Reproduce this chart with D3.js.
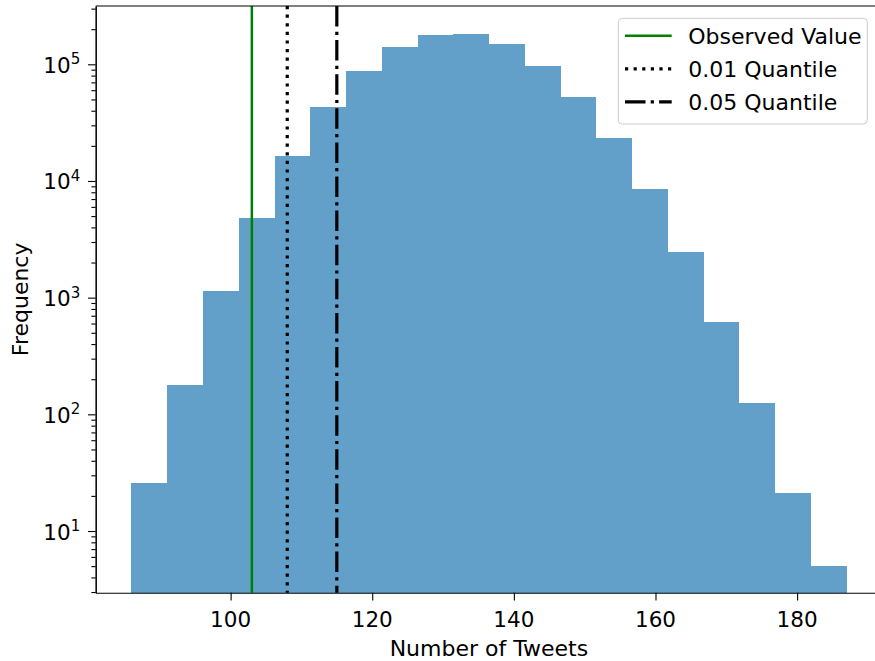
<!DOCTYPE html>
<html>
<head>
<meta charset="utf-8">
<script src="https://cdn.jsdelivr.net/npm/d3@7"></script>
<style>
  body { margin: 0; background: #fff; }
  text { font-family: "DejaVu Sans", sans-serif; fill: #000; }
</style>
</head>
<body>
<div class="chart"></div>
<script>
// histogram bins (left edges + last right edge) and counts
var binEdges = [86, 91.05, 96.1, 101.15, 106.2, 111.25, 116.3, 121.35, 126.4, 131.45, 136.5,
  141.55, 146.6, 151.65, 156.7, 161.75, 166.8, 171.85, 176.9, 181.95, 187];
var binCounts = [26, 180, 1140, 4790, 16400, 43000, 87700, 141600, 179600, 182700, 149000,
  96700, 52500, 23300, 8500, 2450, 620, 125, 21, 5];

var lineNames = ["Observed Value", "0.01 Quantile", "0.05 Quantile"];
var lineValues = [103, 108, 115];

var xTicks = [100, 120, 140, 160, 180];
var yExponents = [1, 2, 3, 4, 5];

var svgWidth = 875;
var svgHeight = 661;

var margin = { top: 6, right: 0, bottom: 68.3, left: 95.7 };
var height = svgHeight - margin.top - margin.bottom;
var width = 786.4; // runs past the right edge of the picture

var svg = d3.select(".chart")
  .append("svg")
  .attr("width", svgWidth)
  .attr("height", svgHeight);

var chartGroup = svg.append("g")
  .attr("transform", `translate(${margin.left}, ${margin.top})`);

var xScale = d3.scaleLinear()
  .domain([80.95, 192])
  .range([0, width]);

var yScale = d3.scaleLog()
  .domain([2.96, 316000])
  .range([height, 0]);

var bins = binCounts.map(function(c, i) {
  return { x0: binEdges[i], x1: binEdges[i + 1], count: c };
});

// bars (C0 at alpha 0.7 on white)
chartGroup.selectAll("rect.bar")
  .data(bins)
  .enter()
  .append("rect")
  .attr("class", "bar")
  .attr("x", d => xScale(d.x0))
  .attr("width", d => xScale(d.x1) - xScale(d.x0))
  .attr("y", d => yScale(d.count))
  .attr("height", d => height - yScale(d.count))
  .attr("fill", "#62a0ca")
  .attr("shape-rendering", "crispEdges");

// vertical reference lines
var lineStyles = [
  { color: "#008000", width: 2.5, dash: null },
  { color: "#000", width: 3.2, dash: "3.2,5.4" },
  { color: "#000", width: 3.2, dash: "20.5,5.2,3.2,5.2" }
];

chartGroup.selectAll("line.ref")
  .data(lineValues)
  .enter()
  .append("line")
  .attr("class", "ref")
  .attr("x1", d => xScale(d))
  .attr("x2", d => xScale(d))
  .attr("y1", 0)
  .attr("y2", height)
  .attr("stroke", (d, i) => lineStyles[i].color)
  .attr("stroke-width", (d, i) => lineStyles[i].width)
  .attr("stroke-dasharray", (d, i) => lineStyles[i].dash);

// x axis
var bottomAxis = d3.axisBottom(xScale)
  .tickValues(xTicks)
  .tickSize(7.7)
  .tickSizeOuter(0)
  .tickFormat("");

var xAxisG = chartGroup.append("g")
  .attr("transform", `translate(0, ${height})`)
  .call(bottomAxis);

xAxisG.selectAll(".tickLabel")
  .data(xTicks)
  .enter()
  .append("text")
  .attr("x", d => xScale(d))
  .attr("y", 34.3)
  .attr("text-anchor", "middle")
  .attr("font-size", "21.5px")
  .text(d => d);

// y axis: minor ticks then major ticks
var minorTicks = [];
for (var e = 0; e <= 5; e++) {
  for (var m = 2; m <= 9; m++) {
    var v = m * Math.pow(10, e);
    if (v >= 2.96 && v <= 316000) minorTicks.push(v);
  }
}

chartGroup.append("g")
  .call(d3.axisLeft(yScale).tickValues(minorTicks).tickSize(4.3).tickSizeOuter(0).tickFormat(""));

var majorValues = yExponents.map(p => Math.pow(10, p));
var yAxisG = chartGroup.append("g")
  .call(d3.axisLeft(yScale).tickValues(majorValues).tickSize(7.7).tickSizeOuter(0).tickFormat(""));

var yLabels = yAxisG.selectAll(".yLabel")
  .data(yExponents)
  .enter()
  .append("text")
  .attr("x", -15.5)
  .attr("y", d => yScale(Math.pow(10, d)) + 8.5)
  .attr("text-anchor", "end")
  .attr("font-size", "21.5px");
yLabels.append("tspan").text("10");
yLabels.append("tspan")
  .attr("font-size", "15px")
  .attr("dy", -8.5)
  .text(d => d);

chartGroup.selectAll(".domain, .tick line")
  .attr("stroke", "#000")
  .attr("stroke-width", 1.1);

// top spine
chartGroup.append("line")
  .attr("x1", 0).attr("x2", width)
  .attr("y1", 0).attr("y2", 0)
  .attr("stroke", "#000")
  .attr("stroke-width", 1.1);

// axis titles
chartGroup.append("text")
  .attr("transform", "rotate(-90)")
  .attr("x", 0 - height / 2)
  .attr("y", 28 - margin.left)
  .attr("text-anchor", "middle")
  .attr("font-size", "22px")
  .text("Frequency");

chartGroup.append("text")
  .attr("x", width / 2)
  .attr("y", height + 63)
  .attr("text-anchor", "middle")
  .attr("font-size", "22px")
  .text("Number of Tweets");

// legend
var legend = svg.append("g").attr("transform", "translate(618.3, 18.3)");
legend.append("rect")
  .attr("width", 249)
  .attr("height", 105.7)
  .attr("rx", 4)
  .attr("fill", "#fff")
  .attr("fill-opacity", 0.8)
  .attr("stroke", "#cccccc")
  .attr("stroke-width", 1);

var rows = legend.selectAll("g.row")
  .data(lineNames)
  .enter()
  .append("g")
  .attr("class", "row")
  .attr("transform", (d, i) => `translate(0, ${17.5 + i * 33})`);

rows.append("line")
  .attr("x1", 6.7).attr("x2", 53.4)
  .attr("stroke", (d, i) => lineStyles[i].color)
  .attr("stroke-width", (d, i) => lineStyles[i].width)
  .attr("stroke-dasharray", (d, i) => lineStyles[i].dash);

rows.append("text")
  .attr("x", 70)
  .attr("y", 8)
  .attr("font-size", "22px")
  .text(d => d);
</script>
</body>
</html>
